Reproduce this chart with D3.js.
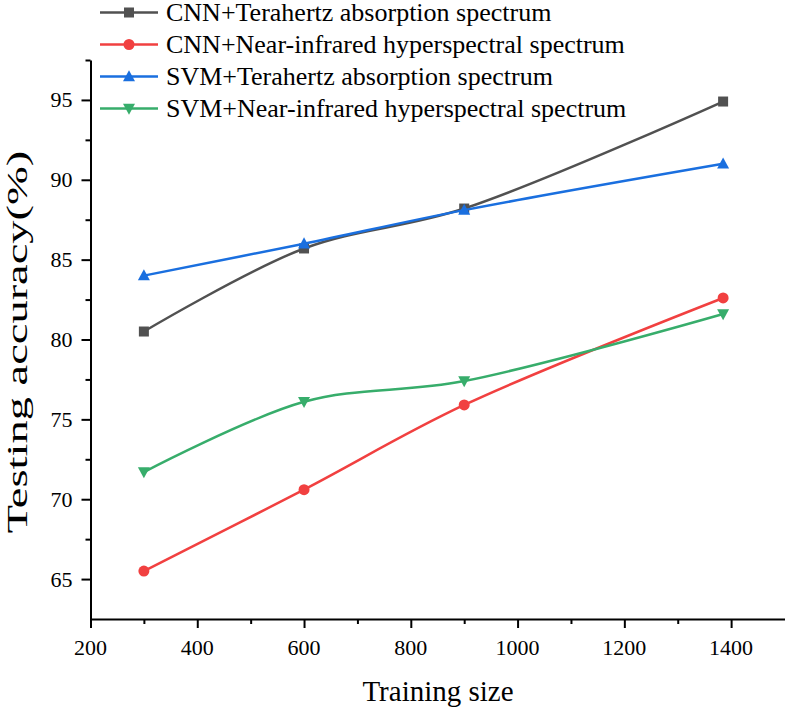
<!DOCTYPE html>
<html>
<head>
<meta charset="utf-8">
<script src="https://cdn.jsdelivr.net/npm/d3@7"></script>
<style>
  html, body { margin: 0; padding: 0; background: #fff; }
  svg { display: block; }
</style>
</head>
<body>
<svg id="chart" width="787" height="709"></svg>
<script>
const trainingSize = [300, 600, 900, 1385];
const seriesNames = [
  "CNN+Terahertz absorption spectrum",
  "CNN+Near-infrared hyperspectral spectrum",
  "SVM+Terahertz absorption spectrum",
  "SVM+Near-infrared hyperspectral spectrum"
];
const cnnTerahertz = [80.5, 85.7, 88.2, 94.9];
const cnnNearInfrared = [65.5, 70.6, 75.9, 82.6];
const svmTerahertz = [84.0, 86.0, 88.1, 91.0];
const svmNearInfrared = [71.7, 76.1, 77.4, 81.6];
const xTicks = [200, 400, 600, 800, 1000, 1200, 1400];
const yTicks = [65, 70, 75, 80, 85, 90, 95];
const xTitle = "Training size";
const yTitle = "Testing accuracy(%)";

const seriesValues = [cnnTerahertz, cnnNearInfrared, svmTerahertz, svmNearInfrared];
const colors = ["#515151", "#F14040", "#1A6FDF", "#37AD6B"];
const markers = ["square", "circle", "triangleUp", "triangleDown"];
const SERIF = "Liberation Serif";

const svg = d3.select("#chart");
const x = d3.scaleLinear().domain([200, 1500]).range([90.5, 784.5]);
const y = d3.scaleLinear().domain([62.5, 97.5]).range([619, 60]);

// Axes (lines and ticks)
const xAxisG = svg.append("g").attr("transform", `translate(0,${y(62.5)})`);
xAxisG.call(d3.axisBottom(x).tickValues(xTicks).tickFormat("").tickSize(9).tickSizeOuter(0));
const xMinor = svg.append("g").attr("transform", `translate(0,${y(62.5)})`);
xMinor.call(d3.axisBottom(x).tickValues(d3.range(300, 1500, 200)).tickFormat("").tickSize(5).tickSizeOuter(0));
xMinor.select(".domain").remove();

const yAxisG = svg.append("g").attr("transform", `translate(${x(200)},0)`);
yAxisG.call(d3.axisLeft(y).tickValues(yTicks).tickFormat("").tickSize(9).tickSizeOuter(0));
const yMinor = svg.append("g").attr("transform", `translate(${x(200)},0)`);
yMinor.call(d3.axisLeft(y).tickValues(d3.range(67.5, 97.6, 5)).tickFormat("").tickSize(5).tickSizeOuter(0));
yMinor.select(".domain").remove();

svg.selectAll(".tick text").remove();
svg.selectAll(".domain").attr("stroke", "#000").attr("stroke-width", 2);
svg.selectAll(".tick line").attr("stroke", "#000").attr("stroke-width", 2);

// Tick labels
svg.append("g").selectAll("text").data(xTicks).join("text")
  .attr("x", d => x(d)).attr("y", y(62.5) + 36)
  .attr("text-anchor", "middle").style("font-family", SERIF).style("font-size", "22px")
  .attr("fill", "#000").text(d => String(d));
svg.append("g").selectAll("text").data(yTicks).join("text")
  .attr("x", x(200) - 18).attr("y", d => y(d) + 7.5)
  .attr("text-anchor", "end").style("font-family", SERIF).style("font-size", "22px")
  .attr("fill", "#000").text(d => String(d));

// Titles
svg.append("text").attr("x", 438).attr("y", 701).style("font-family", SERIF).style("font-size", "29px")
  .attr("text-anchor", "middle").attr("fill", "#000").text(xTitle);
svg.append("text").attr("transform", `translate(27,342) rotate(-90) scale(1.55,1)`).style("font-family", SERIF)
  .style("font-size", "30px").attr("text-anchor", "middle").attr("fill", "#000").text(yTitle);

// Marker drawing helper
function drawMarker(g, type, cx, cy, color, s) {
  if (type === "square") {
    g.append("rect").attr("x", cx - s * 0.5).attr("y", cy - s * 0.5).attr("width", s).attr("height", s).attr("fill", color);
  } else if (type === "circle") {
    g.append("circle").attr("cx", cx).attr("cy", cy).attr("r", s * 0.55).attr("fill", color);
  } else if (type === "triangleUp") {
    const h = s * 1.05, w = s * 1.2;
    g.append("path").attr("d", `M${cx},${cy - h * 0.6}L${cx + w / 2},${cy + h * 0.45}L${cx - w / 2},${cy + h * 0.45}Z`).attr("fill", color);
  } else {
    const h = s * 1.05, w = s * 1.2;
    g.append("path").attr("d", `M${cx},${cy + h * 0.6}L${cx + w / 2},${cy - h * 0.45}L${cx - w / 2},${cy - h * 0.45}Z`).attr("fill", color);
  }
}

const line = d3.line().x(d => x(d[0])).y(d => y(d[1])).curve(d3.curveCatmullRom.alpha(0.5));

seriesValues.forEach((vals, i) => {
  const pts = trainingSize.map((t, j) => [t, vals[j]]);
  const g = svg.append("g");
  g.append("path").attr("d", line(pts)).attr("fill", "none").attr("stroke", colors[i]).attr("stroke-width", 2.5);
  pts.forEach(p => drawMarker(g, markers[i], x(p[0]), y(p[1]), colors[i], 10));
});

// Legend
const legend = svg.append("g");
seriesNames.forEach((name, i) => {
  const ly = 12.5 + i * 32;
  legend.append("line").attr("x1", 100).attr("x2", 158).attr("y1", ly).attr("y2", ly)
    .attr("stroke", colors[i]).attr("stroke-width", 2.5);
  drawMarker(legend, markers[i], 129, ly, colors[i], 10);
  legend.append("text").attr("x", 166).attr("y", ly + 8.5).style("font-family", SERIF)
    .style("font-size", "26px").attr("fill", "#000").text(name);
});
</script>
</body>
</html>
